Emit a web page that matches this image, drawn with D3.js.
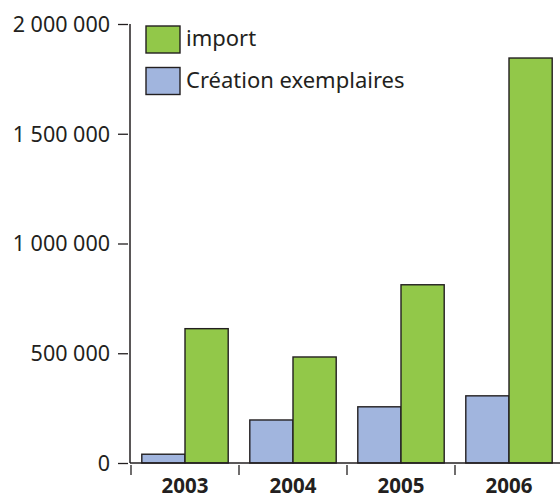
<!DOCTYPE html>
<html><head><meta charset="utf-8">
<script src="https://cdn.jsdelivr.net/npm/d3@7"></script>
<style>body{margin:0;background:#fff}svg{display:block}</style>
</head><body>
<script>
const years = ["2003","2004","2005","2006"];
const seriesNames = ["Création exemplaires","import"];
const creationValues = [40000, 196000, 256000, 306000];
const importValues = [612000, 483000, 812000, 1845000];
const yTicks = [0, 500000, 1000000, 1500000, 2000000];
const legendOrder = ["import","Création exemplaires"];
const colors = {"import":"#92c849","Création exemplaires":"#a1b5de"};

const W=560,H=499;
const font = "'Noto Sans', sans-serif";
const svg = d3.select("body").append("svg").attr("width",W).attr("height",H);

const y = d3.scaleLinear().domain([0,2000000]).range([463,24]);
const x = d3.scaleBand().domain(years).range([131,563]);
const xs = d3.scaleBand().domain(seriesNames).range([0,x.bandwidth()]).paddingOuter(0.25);
const fmt = v => d3.format(",")(v).replace(/,/g," ");

const data = years.map((yr,i)=>({year:yr, vals:[creationValues[i], importValues[i]]}));

// bars
const g = svg.append("g");
data.forEach(d=>{
  seriesNames.forEach((s,j)=>{
    g.append("rect")
      .attr("x", x(d.year)+xs(s))
      .attr("y", y(d.vals[j]))
      .attr("width", xs.bandwidth())
      .attr("height", y(0)-y(d.vals[j]))
      .attr("fill", colors[s])
      .attr("stroke","#231f20").attr("stroke-width",1.4);
  });
});

// y axis
const ya = svg.append("g").attr("transform","translate(128,0)")
  .call(d3.axisLeft(y).tickValues(yTicks).tickFormat(fmt).tickSize(10).tickPadding(8));
ya.select(".domain").remove();
ya.selectAll(".tick line").attr("stroke","#231f20").attr("stroke-width",1.3);
ya.selectAll(".tick text").attr("font-family",font).attr("font-size",21.5).attr("fill","#231f20").attr("dy","0.34em");

svg.append("line").attr("x1",130).attr("x2",130).attr("y1",y(2000000)).attr("y2",y(0))
  .attr("stroke","#231f20").attr("stroke-width",1.5);
svg.append("line").attr("x1",130).attr("x2",W).attr("y1",y(0)).attr("y2",y(0))
  .attr("stroke","#231f20").attr("stroke-width",1.5);

// x axis category ticks
years.forEach(yr=>{
  svg.append("line").attr("x1",x(yr)).attr("x2",x(yr)).attr("y1",465).attr("y2",475)
    .attr("stroke","#231f20").attr("stroke-width",1.3);
  svg.append("text").attr("x",x(yr)+x.bandwidth()/2).attr("y",493)
    .attr("text-anchor","middle").attr("font-family",font).attr("font-weight","bold")
    .attr("font-size",20.5).attr("fill","#231f20").text(yr);
});

// legend
legendOrder.forEach((s,i)=>{
  const ly = 26 + i*41.5;
  svg.append("rect").attr("x",146).attr("y",ly).attr("width",34).attr("height",27)
    .attr("fill",colors[s]).attr("stroke","#231f20").attr("stroke-width",1.4);
  svg.append("text").attr("x",186).attr("y",ly+20).attr("font-family",font)
    .attr("font-size",22).attr("fill","#231f20").text(s);
});
</script>
</body></html>
